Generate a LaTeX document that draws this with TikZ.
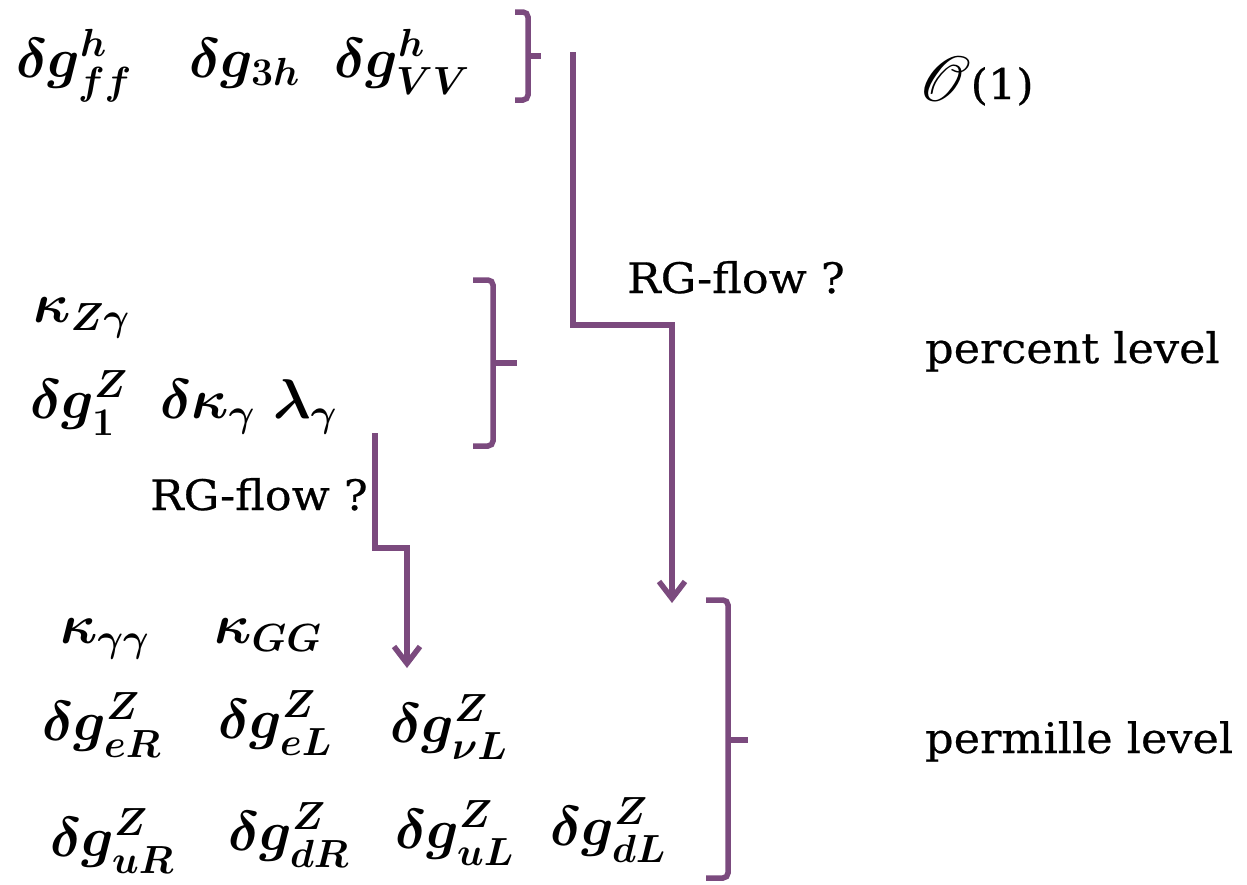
\documentclass[tikz,border=0pt]{standalone}
\usepackage{fix-cm}
\usepackage{mathrsfs}
\usepackage{fontspec}
\setmainfont{DejaVu Serif}[FakeStretch=1.06,FakeBold=0.5]
\usetikzlibrary{arrows.meta}
\definecolor{plum}{HTML}{7B4A7E}
\begin{document}
\begin{tikzpicture}[x=1pt,y=-1pt,
  mth/.style={inner sep=0pt, anchor=base west, font=\fontsize{56}{60}\selectfont\boldmath},
  lbl/.style={inner sep=0pt, anchor=base west, font=\fontsize{42}{48}\selectfont},
  flow/.style={draw=plum, line width=5.5pt, -{Straight Barb[length=17pt,width=26pt]}},
  brc/.style={draw=plum, line width=5.5pt, rounded corners=5pt}]
\useasboundingbox (0,0) rectangle (1247,884);
% top row
\node[mth] (ff)  at (16,77)  {$\delta g^{h}_{ff}$};
\node[mth] (g3h) at (189,77) {$\delta g_{3h}$};
\node[mth] (vv)  at (334,77) {$\delta g^{h}_{VV}$};
% middle rows
\node[mth] (kzg) at (33,322)  {$\kappa_{Z\gamma}$};
\node[mth] (g1z) at (30,418)  {$\delta g^{Z}_{1}$};
\node[mth] (dkg) at (160,418) {$\delta\kappa_{\gamma}$};
\node[mth] (lg)  at (273,418) {$\lambda_{\gamma}$};
% bottom rows
\node[mth] (kgg) at (60,643)  {$\kappa_{\gamma\gamma}$};
\node[mth] (kGG) at (214,643) {$\kappa_{GG}$};
\node[mth] (eR)  at (42,740)  {$\delta g^{Z}_{eR}$};
\node[mth] (eL)  at (218,738) {$\delta g^{Z}_{eL}$};
\node[mth] (nL)  at (390,742) {$\delta g^{Z}_{\nu L}$};
\node[mth] (uR)  at (50,856)  {$\delta g^{Z}_{uR}$};
\node[mth] (dR)  at (228,850) {$\delta g^{Z}_{dR}$};
\node[mth] (uL)  at (395,848) {$\delta g^{Z}_{uL}$};
\node[mth] (dL)  at (550,845) {$\delta g^{Z}_{dL}$};
% labels
\node[lbl] (o1)  at (918,99)  {\raisebox{-2pt}{\fontsize{10}{12}\selectfont\scalebox{6.4}{$\mathscr{O}$}}(1)};
\node[lbl] (pct) at (925,363) {percent level};
\node[lbl] (pml) at (925,753) {permille level};
\node[lbl] (rg1) at (627,293) {RG-flow ?};
\node[lbl] (rg2) at (150,510) {RG-flow ?};
% braces
\draw[brc] (515,12) -- (528,12) -- (528,100) -- (515,100);
\draw[brc] (528,56) -- (541,56);
\draw[brc] (473,280) -- (493,280) -- (493,446) -- (473,446);
\draw[brc] (493,363) -- (517,363);
\draw[brc] (706,600) -- (728,600) -- (728,878) -- (706,878);
\draw[brc] (728,740) -- (748,740);
% arrows
\coordinate (a1s) at (573,52);
\coordinate (a1k) at (672,325);
\coordinate (a1e) at (672,603);
\coordinate (a2s) at (375,433);
\coordinate (a2k) at (407,548);
\coordinate (a2e) at (407,668);
\draw[flow] (a1s) |- (a1k) -- (a1e);
\draw[flow] (a2s) |- (a2k) -- (a2e);
\end{tikzpicture}
\end{document}
